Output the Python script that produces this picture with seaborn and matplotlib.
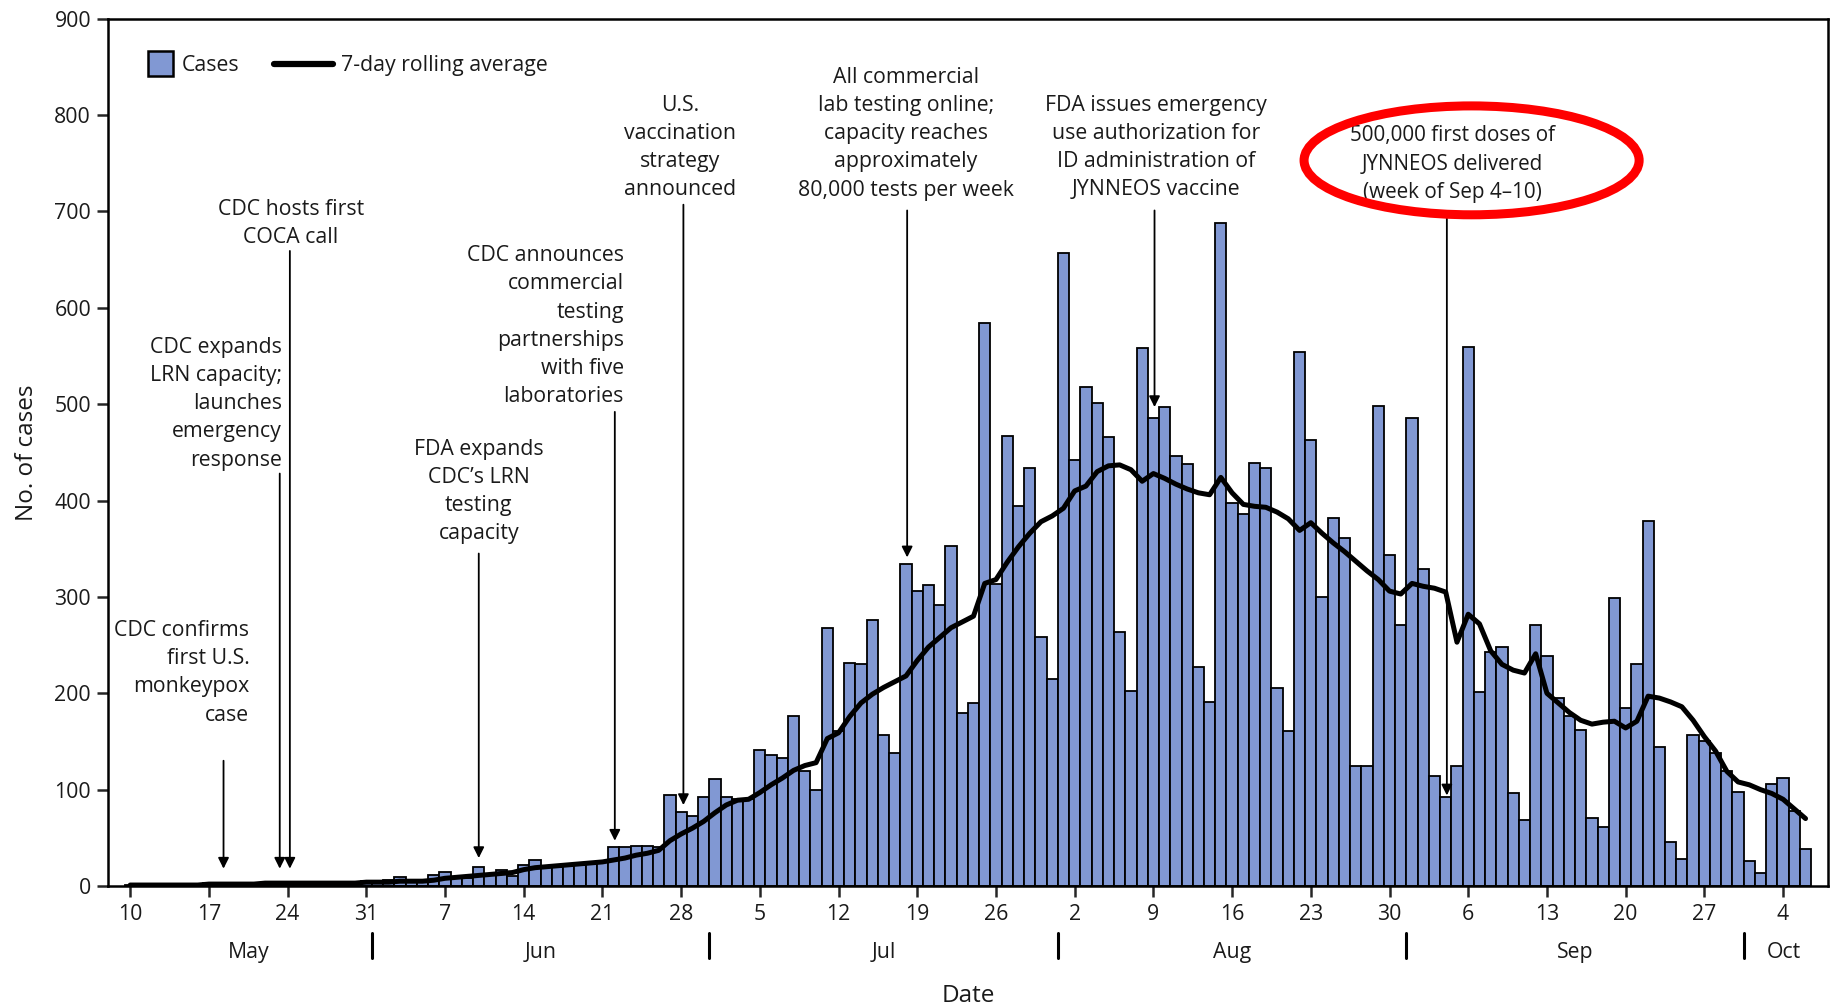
import numpy as np
import pandas as pd
import matplotlib
matplotlib.use('Agg')
import matplotlib.pyplot as plt
import matplotlib.transforms as mtransforms
from matplotlib.patches import Patch, Ellipse, Rectangle
from matplotlib.lines import Line2D
from matplotlib.legend_handler import HandlerPatch
import seaborn as sns

# ==========================================
# daily cases (May 10 - Oct 6, 2022)
# ==========================================
cases_may = [1, 1, 1, 1, 0, 1, 2, 3, 3, 2, 3, 3, 3, 2, 3, 4, 3, 3, 3, 4, 4, 5]
cases_jun = [5, 6, 9, 6, 6, 11, 15, 8, 8, 20, 11, 17, 10, 22, 27, 20, 20, 21, 22, 23,
             25, 40, 40, 42, 42, 40, 94, 77, 73, 92]
cases_jul = [111, 92, 90, 90, 141, 136, 133, 176, 119, 100, 268, 161, 231, 230, 276, 157,
             138, 334, 306, 312, 292, 353, 180, 190, 584, 313, 467, 394, 434, 258, 215]
cases_aug = [657, 442, 518, 501, 466, 264, 202, 558, 486, 497, 446, 438, 227, 191, 688, 397,
             386, 439, 434, 205, 161, 554, 463, 300, 382, 361, 125, 125, 498, 344, 271]
cases_sep = [486, 329, 114, 92, 125, 559, 201, 243, 248, 97, 69, 271, 239, 195, 176, 162,
             71, 61, 299, 185, 230, 379, 144, 46, 28, 157, 150, 138, 119, 98]
cases_oct = [26, 14, 106, 112, 78, 38]

# 7-day rolling average line
avg_may = [1, 1, 1, 1, 1, 1, 1, 2, 2, 2, 2, 2, 3, 3, 3, 3, 3, 3, 3, 3, 3, 4]
avg_jun = [4, 4, 5, 5, 5, 6, 8, 9, 10, 11, 12, 13, 14, 17, 19, 20, 21, 22, 23, 24,
           25, 27, 29, 32, 34, 37, 47, 54, 60, 67]
avg_jul = [76, 84, 89, 90, 97, 105, 112, 120, 125, 128, 153, 159, 176, 190, 199, 206,
           212, 218, 234, 248, 258, 268, 274, 280, 314, 318, 336, 352, 366, 378, 384]
avg_aug = [392, 410, 415, 430, 436, 437, 432, 420, 428, 423, 417, 412, 408, 406, 424, 408,
           396, 394, 393, 388, 381, 369, 377, 366, 356, 347, 337, 327, 318, 306, 303]
avg_sep = [314, 311, 309, 305, 253, 282, 272, 244, 230, 224, 221, 241, 200, 190, 180, 172,
           168, 170, 171, 164, 171, 197, 195, 191, 186, 172, 155, 140, 119, 108]
avg_oct = [105, 100, 96, 90, 80, 70]

month_names = ['May', 'Jun', 'Jul', 'Aug', 'Sep', 'Oct']

cases = cases_may + cases_jun + cases_jul + cases_aug + cases_sep + cases_oct
rolling = avg_may + avg_jun + avg_jul + avg_aug + avg_sep + avg_oct
dates = pd.date_range('2022-05-10', periods=len(cases), freq='D')

df = pd.DataFrame({'date': dates, 'cases': cases, 'avg': rolling})
df['day'] = (df['date'] - dates[0]).dt.days

# ==========================================
# figure
# ==========================================
sns.set_theme(style='white')
plt.rcParams['font.family'] = ['Open Sans', 'DejaVu Sans']

BAR_COLOR = '#8198d3'
FS = 15.3
TEXT_COLOR = '#1a1a1a'

fig = plt.figure(figsize=(18.35, 10.05), dpi=100)
fig.patch.set_facecolor('white')
ax = fig.add_axes([0.0587, 0.1184, 0.9375, 0.863])

sns.barplot(data=df, x='day', y='cases', native_scale=True, width=1.0,
            color=BAR_COLOR, saturation=1, edgecolor='black', linewidth=1.3, ax=ax, zorder=2)
sns.lineplot(data=df, x='day', y='avg', color='black', linewidth=3.6, ax=ax, zorder=3)

ax.set_xlim(-2, 151)
ax.set_ylim(0, 900)

# axes frame
for s in ax.spines.values():
    s.set_visible(True)
    s.set_color('black')
    s.set_linewidth(1.8)

ax.set_yticks(range(0, 901, 100))
ax.tick_params(axis='y', direction='out', length=8, width=1.8, labelsize=FS,
               pad=4, left=True, labelcolor=TEXT_COLOR)
week_idx = list(range(0, len(df), 7))
ax.set_xticks(df['day'].iloc[week_idx])
ax.set_xticklabels([str(d.day) for d in df['date'].iloc[week_idx]])
ax.tick_params(axis='x', direction='out', length=8, width=1.8, labelsize=FS,
               pad=5, bottom=True, labelcolor=TEXT_COLOR)

ax.set_xlabel('')
ax.set_ylabel('No. of cases', fontsize=17.5, labelpad=11, color=TEXT_COLOR)
ax.text(0.5, -0.127, 'Date', transform=ax.transAxes, ha='center', va='center',
        fontsize=17.5, color=TEXT_COLOR)

# month labels and separators under the day ticks
trans = mtransforms.blended_transform_factory(ax.transData, ax.transAxes)
for m in range(len(month_names)):
    mdays = df.loc[df['date'].dt.month == m + 5, 'day']
    if m == len(month_names) - 1:
        mid = 147.1
    else:
        mid = (mdays.min() + mdays.max()) / 2
    ax.text(mid, -0.077, month_names[m], transform=trans, ha='center', va='center',
            fontsize=FS, color=TEXT_COLOR)
    if m > 0:
        edge = mdays.min() - 0.5
        ax.plot([edge, edge], [-0.054, -0.083], transform=trans, color='black',
                lw=2.2, clip_on=False)

# ==========================================
# event annotations
# ==========================================
events = [
    # text, text x, text top, alignment, arrow x, arrow start, arrow tip, font size
    ("CDC confirms\nfirst U.S.\nmonkeypox\ncase", 10.6, 276, 'right', 8.3, 130, 18, FS),
    ("CDC expands\nLRN capacity;\nlaunches\nemergency\nresponse", 13.5, 570, 'right', 13.3, 428, 18, FS),
    ("CDC hosts first\nCOCA call", 14.3, 713, 'center', 14.2, 659, 18, FS),
    ("FDA expands\nCDC\u2019s LRN\ntesting\ncapacity", 31, 464, 'center', 31, 345, 29, FS),
    ("CDC announces\ncommercial\ntesting\npartnerships\nwith five\nlaboratories", 43.9, 665, 'right', 43.1, 492, 47, FS),
    ("U.S.\nvaccination\nstrategy\nannounced", 48.9, 821, 'center', 49.2, 707, 84, FS),
    ("All commercial\nlab testing online;\ncapacity reaches\napproximately\n80,000 tests per week",
     69, 850, 'center', 69.1, 701, 341, FS),
    ("FDA issues emergency\nuse authorization for\nID administration of\nJYNNEOS vaccine",
     91.2, 821, 'center', 91.1, 701, 497, FS),
    ("500,000 first doses of\nJYNNEOS delivered\n(week of Sep 4\u201310)", 117.6, 790, 'center', 117.1, 695, 94, 14.9),
]
for txt, tx, ty, ha, axx, y0, y1, fs in events:
    ax.text(tx, ty, txt, ha=ha, va='top', multialignment=ha, fontsize=fs,
            linespacing=1.45 * FS / fs, color=TEXT_COLOR, zorder=5)
    ax.annotate('', xy=(axx, y1), xytext=(axx, y0),
                arrowprops=dict(arrowstyle='-|>', color='black', lw=1.3,
                                mutation_scale=16, shrinkA=0, shrinkB=0), zorder=5)

ax.add_patch(Ellipse((119.3, 753), width=29.8, height=113, facecolor='none',
                     edgecolor='#ff0000', lw=6.5, zorder=6))


# legend: square swatch for the bars, long stroke for the line
def square_swatch(legend, orig_handle, xdescent, ydescent, width, height, fontsize):
    side = height * 1.65
    return Rectangle((-xdescent + width - side, -ydescent + (height - side) / 2), side, side)


handles = [Patch(facecolor=BAR_COLOR, edgecolor='black', linewidth=1.8, label='Cases'),
           Line2D([0], [0], color='black', lw=4.5, label='7-day rolling average')]
ax.legend(handles=handles, loc='center left', bbox_to_anchor=(0.004, 0.946), ncol=2,
          frameon=False, fontsize=FS, handlelength=2.75, handletextpad=0.4,
          columnspacing=1.65, borderpad=0, borderaxespad=0, labelcolor=TEXT_COLOR,
          handler_map={Patch: HandlerPatch(patch_func=square_swatch)})

fig.savefig('out.png', dpi=100, facecolor='white')
